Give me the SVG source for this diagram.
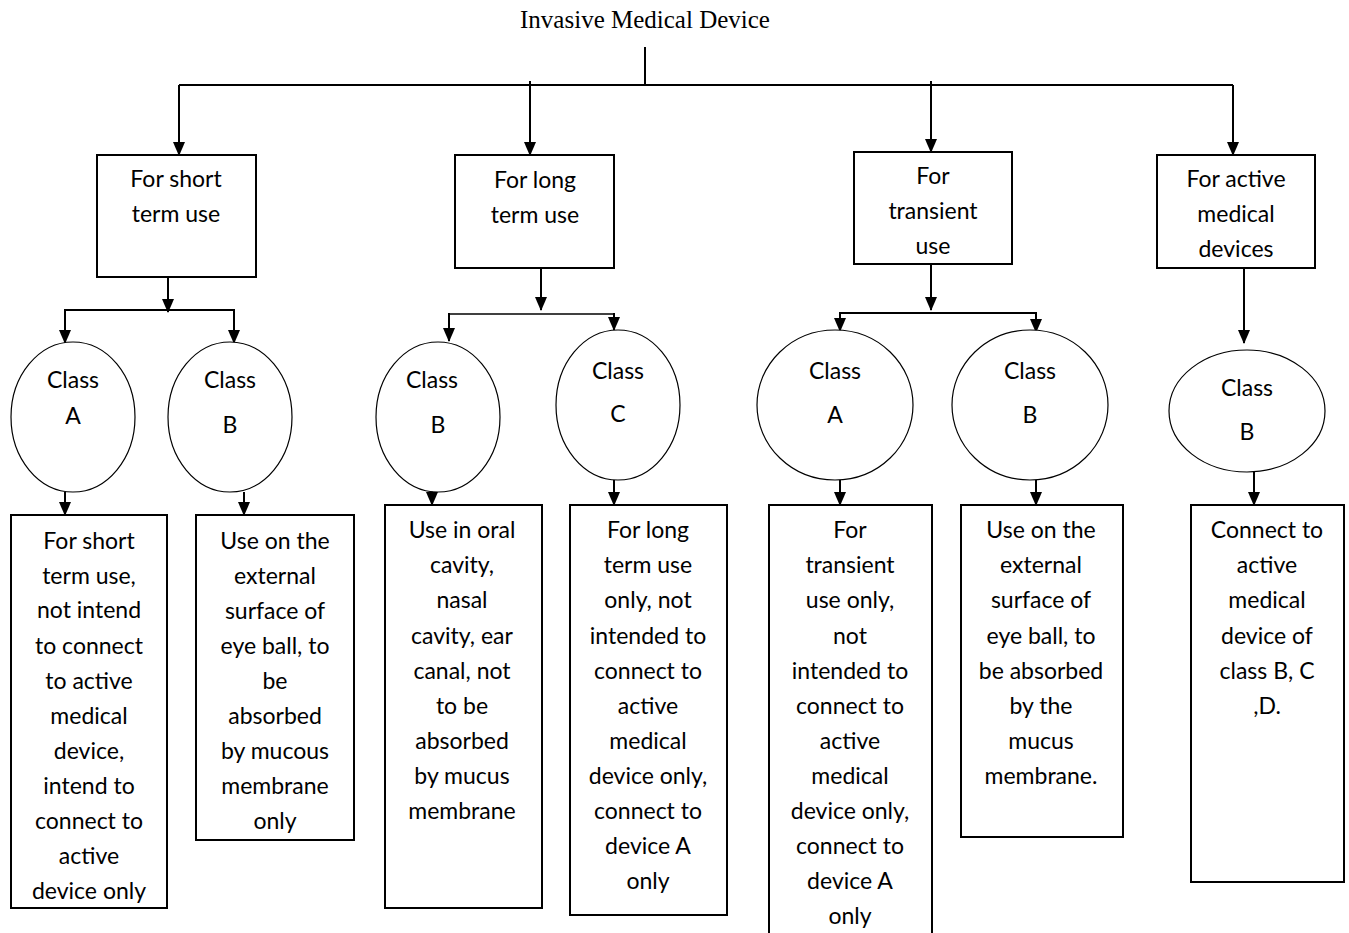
<svg xmlns="http://www.w3.org/2000/svg" width="1349" height="933" viewBox="0 0 1349 933">
<style>
.t{font-family:Lato,"Liberation Sans",sans-serif;font-size:23px;fill:#000;text-anchor:middle}
.title{font-family:"Liberation Serif",serif;font-size:25px;fill:#000;text-anchor:middle}
.box{fill:#fff;stroke:#000;stroke-width:2}
.circ{fill:#fff;stroke:#000;stroke-width:1.2}
.ln{fill:none;stroke:#000;stroke-width:2}
.ar{fill:none;stroke:#000;stroke-width:2;marker-end:url(#ah)}
</style>
<defs>
<marker id="ah" markerUnits="userSpaceOnUse" markerWidth="14" markerHeight="12" refX="13" refY="6" orient="auto" viewBox="0 0 14 12">
<path d="M0,0 L14,6 L0,12 Z" fill="#000"/>
</marker>
</defs>
<rect width="1349" height="933" fill="#fff"/>
<g id="connectors">
<line class="ln" x1="645" y1="47" x2="645" y2="85"/>
<line class="ln" x1="179" y1="85" x2="1233" y2="85"/>
<line class="ar" x1="179" y1="85" x2="179" y2="155"/>
<line class="ar" x1="530" y1="81" x2="530" y2="155"/>
<line class="ar" x1="931" y1="81" x2="931" y2="152"/>
<line class="ar" x1="1233" y1="85" x2="1233" y2="155"/>
<line class="ar" x1="168" y1="277" x2="168" y2="312"/>
<line class="ln" x1="65" y1="310" x2="234" y2="310"/>
<line class="ar" x1="65" y1="309" x2="65" y2="343"/>
<line class="ar" x1="234" y1="309" x2="234" y2="343"/>
<line class="ar" x1="541" y1="268" x2="541" y2="310"/>
<line class="ln" x1="449" y1="314" x2="614" y2="314" style="stroke-width:1.4"/>
<line class="ar" x1="449" y1="313" x2="449" y2="341"/>
<line class="ar" x1="614" y1="313" x2="614" y2="330"/>
<line class="ar" x1="931" y1="264" x2="931" y2="310"/>
<line class="ln" x1="840" y1="313" x2="1036" y2="313"/>
<line class="ar" x1="840" y1="312" x2="840" y2="331"/>
<line class="ar" x1="1036" y1="312" x2="1036" y2="332"/>
<line class="ar" x1="1244" y1="268" x2="1244" y2="343"/>
<line class="ar" x1="65" y1="492" x2="65" y2="515"/>
<line class="ar" x1="244" y1="492" x2="244" y2="515"/>
<line class="ar" x1="432" y1="481" x2="432" y2="505"/>
<line class="ar" x1="614" y1="480" x2="614" y2="505"/>
<line class="ar" x1="840" y1="480" x2="840" y2="505"/>
<line class="ar" x1="1036" y1="480" x2="1036" y2="505"/>
<line class="ar" x1="1254" y1="472" x2="1254" y2="505"/>
</g>
<g id="title"><text class="title" x="645" y="28">Invasive Medical Device</text></g>
<g id="n-short">
<rect class="box" x="97" y="155" width="159" height="122"/>
<text class="t" x="176" y="187">For short</text>
<text class="t" x="176" y="222">term use</text>
</g>
<g id="n-long">
<rect class="box" x="455" y="155" width="159" height="113"/>
<text class="t" x="535" y="188">For long</text>
<text class="t" x="535" y="223">term use</text>
</g>
<g id="n-transient">
<rect class="box" x="854" y="152" width="158" height="112"/>
<text class="t" x="933" y="184">For</text>
<text class="t" x="933" y="219">transient</text>
<text class="t" x="933" y="254">use</text>
</g>
<g id="n-active">
<rect class="box" x="1157" y="155" width="158" height="113"/>
<text class="t" x="1236" y="187">For active</text>
<text class="t" x="1236" y="222">medical</text>
<text class="t" x="1236" y="257">devices</text>
</g>
<g id="c-short-a">
<ellipse class="circ" cx="73" cy="417" rx="62" ry="75"/>
<text class="t" x="73" y="388">Class</text>
<text class="t" x="73" y="424">A</text>
</g>
<g id="c-short-b">
<ellipse class="circ" cx="230" cy="417" rx="62" ry="75"/>
<text class="t" x="230" y="388">Class</text>
<text class="t" x="230" y="433">B</text>
</g>
<g id="c-long-b">
<ellipse class="circ" cx="438" cy="417" rx="62" ry="75"/>
<text class="t" x="432" y="388">Class</text>
<text class="t" x="438" y="433">B</text>
</g>
<g id="c-long-c">
<ellipse class="circ" cx="618" cy="405" rx="62" ry="75"/>
<text class="t" x="618" y="379">Class</text>
<text class="t" x="618" y="422">C</text>
</g>
<g id="c-trans-a">
<ellipse class="circ" cx="835" cy="405" rx="78" ry="75"/>
<text class="t" x="835" y="379">Class</text>
<text class="t" x="835" y="423">A</text>
</g>
<g id="c-trans-b">
<ellipse class="circ" cx="1030" cy="405" rx="78" ry="75"/>
<text class="t" x="1030" y="379">Class</text>
<text class="t" x="1030" y="423">B</text>
</g>
<g id="c-active-b">
<ellipse class="circ" cx="1247" cy="411" rx="78" ry="61"/>
<text class="t" x="1247" y="396">Class</text>
<text class="t" x="1247" y="440">B</text>
</g>
<g id="d-short-a">
<rect class="box" x="11" y="515" width="156" height="393"/>
<text class="t" x="89" y="549">For short</text>
<text class="t" x="89" y="584">term use,</text>
<text class="t" x="89" y="618">not intend</text>
<text class="t" x="89" y="654">to connect</text>
<text class="t" x="89" y="689">to active</text>
<text class="t" x="89" y="724">medical</text>
<text class="t" x="89" y="759">device,</text>
<text class="t" x="89" y="794">intend to</text>
<text class="t" x="89" y="829">connect to</text>
<text class="t" x="89" y="864">active</text>
<text class="t" x="89" y="899">device only</text>
</g>
<g id="d-short-b">
<rect class="box" x="196" y="515" width="158" height="325"/>
<text class="t" x="275" y="549">Use on the</text>
<text class="t" x="275" y="584">external</text>
<text class="t" x="275" y="619">surface of</text>
<text class="t" x="275" y="654">eye ball, to</text>
<text class="t" x="275" y="689">be</text>
<text class="t" x="275" y="724">absorbed</text>
<text class="t" x="275" y="759">by mucous</text>
<text class="t" x="275" y="794">membrane</text>
<text class="t" x="275" y="829">only</text>
</g>
<g id="d-long-b">
<rect class="box" x="385" y="505" width="157" height="403"/>
<text class="t" x="462" y="538">Use in oral</text>
<text class="t" x="462" y="573">cavity,</text>
<text class="t" x="462" y="608">nasal</text>
<text class="t" x="462" y="644">cavity, ear</text>
<text class="t" x="462" y="679">canal, not</text>
<text class="t" x="462" y="714">to be</text>
<text class="t" x="462" y="749">absorbed</text>
<text class="t" x="462" y="784">by mucus</text>
<text class="t" x="462" y="819">membrane</text>
</g>
<g id="d-long-c">
<rect class="box" x="570" y="505" width="157" height="410"/>
<text class="t" x="648" y="538">For long</text>
<text class="t" x="648" y="573">term use</text>
<text class="t" x="648" y="608">only, not</text>
<text class="t" x="648" y="644">intended to</text>
<text class="t" x="648" y="679">connect to</text>
<text class="t" x="648" y="714">active</text>
<text class="t" x="648" y="749">medical</text>
<text class="t" x="648" y="784">device only,</text>
<text class="t" x="648" y="819">connect to</text>
<text class="t" x="648" y="854">device A</text>
<text class="t" x="648" y="889">only</text>
</g>
<g id="d-trans-a">
<rect class="box" x="769" y="505" width="163" height="440"/>
<text class="t" x="850" y="538">For</text>
<text class="t" x="850" y="573">transient</text>
<text class="t" x="850" y="608">use only,</text>
<text class="t" x="850" y="644">not</text>
<text class="t" x="850" y="679">intended to</text>
<text class="t" x="850" y="714">connect to</text>
<text class="t" x="850" y="749">active</text>
<text class="t" x="850" y="784">medical</text>
<text class="t" x="850" y="819">device only,</text>
<text class="t" x="850" y="854">connect to</text>
<text class="t" x="850" y="889">device A</text>
<text class="t" x="850" y="924">only</text>
</g>
<g id="d-trans-b">
<rect class="box" x="961" y="505" width="162" height="332"/>
<text class="t" x="1041" y="538">Use on the</text>
<text class="t" x="1041" y="573">external</text>
<text class="t" x="1041" y="608">surface of</text>
<text class="t" x="1041" y="644">eye ball, to</text>
<text class="t" x="1041" y="679">be absorbed</text>
<text class="t" x="1041" y="714">by the</text>
<text class="t" x="1041" y="749">mucus</text>
<text class="t" x="1041" y="784">membrane.</text>
</g>
<g id="d-active-b">
<rect class="box" x="1191" y="505" width="153" height="377"/>
<text class="t" x="1267" y="538">Connect to</text>
<text class="t" x="1267" y="573">active</text>
<text class="t" x="1267" y="608">medical</text>
<text class="t" x="1267" y="644">device of</text>
<text class="t" x="1267" y="679">class B, C</text>
<text class="t" x="1267" y="714">,D.</text>
</g>
</svg>
